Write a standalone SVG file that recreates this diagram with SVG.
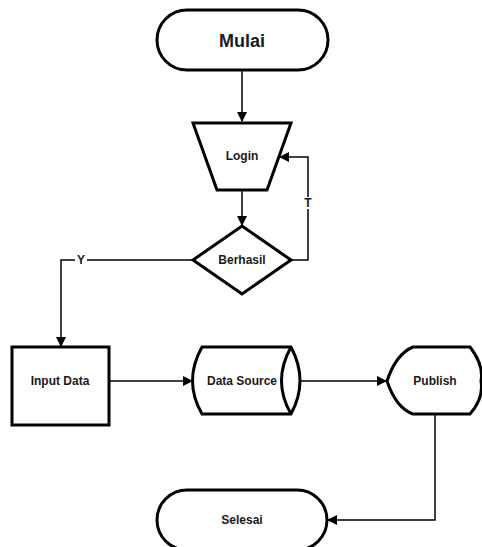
<svg xmlns="http://www.w3.org/2000/svg" width="482" height="547" viewBox="0 0 482 547">
<defs>
<marker id="arr" markerWidth="10" markerHeight="10" refX="9" refY="5" orient="auto" markerUnits="userSpaceOnUse">
<path d="M0,0 L10,5 L0,10 z" fill="#000"/>
</marker>
<style>
.shape{fill:#fff;stroke:#000;stroke-width:3;stroke-linejoin:miter}
.conn{fill:none;stroke:#000;stroke-width:1.5}
.lbl{font-family:"Liberation Sans",Arial,sans-serif;font-weight:bold;font-size:12px;fill:#1a1a1a;text-anchor:middle;dominant-baseline:central}
.big{font-size:18px}
</style>
</defs>
<rect width="482" height="547" fill="#fff"/>
<g id="connectors">
<path class="conn" d="M242,70 V121" marker-end="url(#arr)"/>
<path class="conn" d="M242,190 V225" marker-end="url(#arr)"/>
<path class="conn" d="M291,260 H308 V157 H280" marker-end="url(#arr)"/>
<path class="conn" d="M193,260 H61 V346" marker-end="url(#arr)"/>
<path class="conn" d="M109,381 H192" marker-end="url(#arr)"/>
<path class="conn" d="M300,381 H386" marker-end="url(#arr)"/>
<path class="conn" d="M435,414 V520 H328" marker-end="url(#arr)"/>
<rect x="75" y="254" width="12" height="12" fill="#fff"/>
<text class="lbl" x="81" y="260">Y</text>
<rect x="302" y="197" width="12" height="12" fill="#fff"/>
<text class="lbl" x="308" y="203">T</text>
</g>
<g id="mulai">
<rect class="shape" x="157" y="10" width="171" height="60" rx="30" ry="30"/>
<text class="lbl big" x="242" y="41">Mulai</text>
</g>
<g id="login">
<path class="shape" d="M193,123 H291 L267,190 H217 Z"/>
<text class="lbl" x="242" y="156">Login</text>
</g>
<g id="berhasil">
<path class="shape" d="M242,226 L291,260 L242,294 L193,260 Z"/>
<text class="lbl" x="242" y="260">Berhasil</text>
</g>
<g id="input-data">
<rect class="shape" x="12" y="347" width="97" height="78"/>
<text class="lbl" x="60" y="381">Input Data</text>
</g>
<g id="data-source">
<path class="shape" d="M202,347 H291 Q309,381 291,414 H202 Q183,381 202,347 Z"/>
<path class="shape" d="M291,347 Q272,381 291,414" fill="none"/>
<text class="lbl" x="242" y="381">Data Source</text>
</g>
<g id="publish">
<path class="shape" d="M387,381 Q396,354 413,347 H470 Q484,365 481,381 Q484,398 470,414 H413 Q396,408 387,381 Z"/>
<text class="lbl" x="435" y="381">Publish</text>
</g>
<g id="selesai">
<rect class="shape" x="157" y="490" width="170" height="60" rx="30" ry="30"/>
<text class="lbl" x="242" y="520">Selesai</text>
</g>
</svg>
